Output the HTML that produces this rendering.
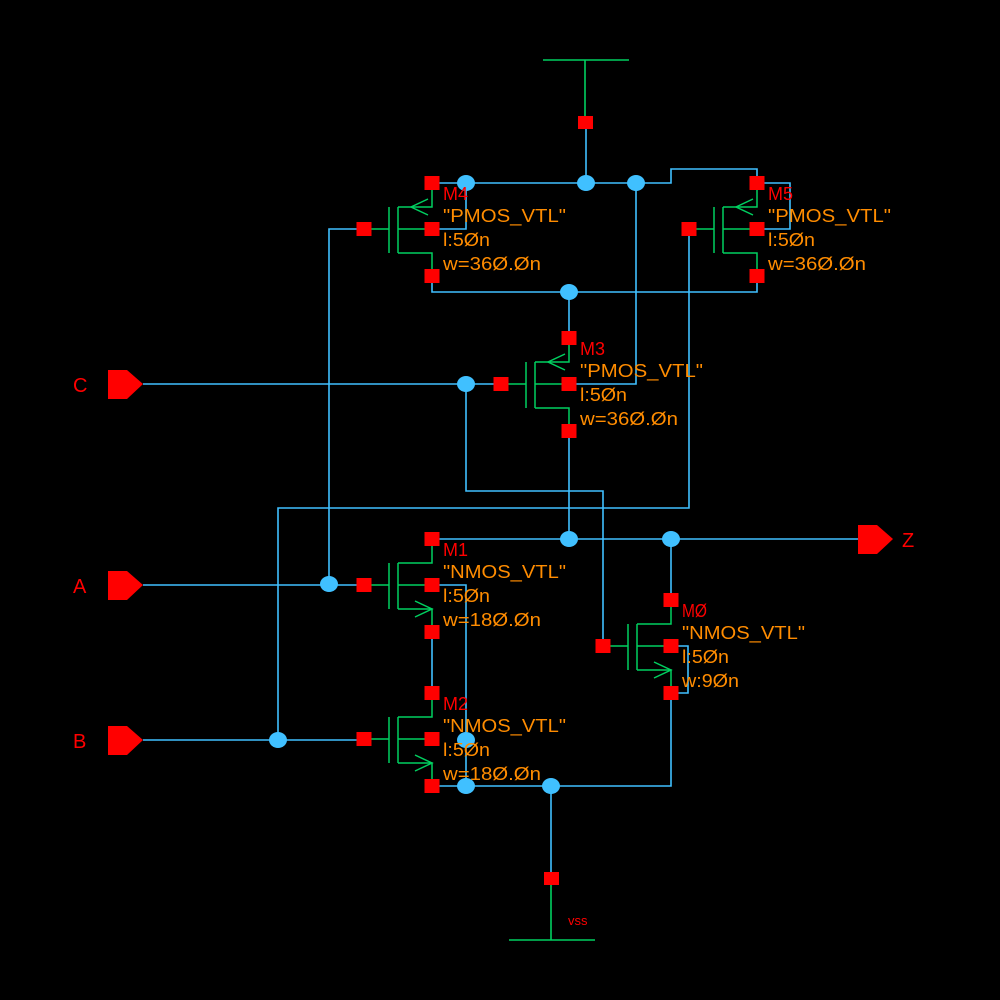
<!DOCTYPE html>
<html><head><meta charset="utf-8"><style>html,body{margin:0;padding:0;background:#000}svg{display:block}</style></head>
<body>
<svg width="1000" height="1000" viewBox="0 0 1000 1000" xmlns="http://www.w3.org/2000/svg">
<rect width="1000" height="1000" fill="#000"/>
<defs>
<g id="pm">
 <g stroke="#00d060" stroke-width="1.5" fill="none">
  <path d="M-61 46H-43M-43 24V70M-34 24V70M-34 24H0V0M-34 46H0M-34 70H0V93"/>
  <path d="M-4 16L-21 24L-4 32"/>
 </g>
 <rect x="-7.5" y="-7" width="15" height="14" fill="#f00"/>
 <rect x="-7.5" y="39" width="15" height="14" fill="#f00"/>
 <rect x="-7.5" y="86" width="15" height="14" fill="#f00"/>
 <rect x="-75.5" y="39" width="15" height="14" fill="#f00"/>
</g>
<g id="nm">
 <g stroke="#00d060" stroke-width="1.5" fill="none">
  <path d="M-61 46H-43M-43 24V70M-34 24V70M-34 24H0V0M-34 46H0M-34 70H0V93"/>
  <path d="M-17 62L0 70L-17 78"/>
 </g>
 <rect x="-7.5" y="-7" width="15" height="14" fill="#f00"/>
 <rect x="-7.5" y="39" width="15" height="14" fill="#f00"/>
 <rect x="-7.5" y="86" width="15" height="14" fill="#f00"/>
 <rect x="-75.5" y="39" width="15" height="14" fill="#f00"/>
</g>
</defs>

<g stroke="#40c0ff" stroke-width="1.6" fill="none">
 <path d="M586 129V183"/>
 <path d="M432 183H671V169H757V183"/>
 <path d="M757 183H790V229H757"/>
 <path d="M432 229H466V183"/>
 <path d="M364 229H329V584"/>
 <path d="M432 276V292H757V276"/>
 <path d="M569 292V338"/>
 <path d="M689 229V508H278V740"/>
 <path d="M636 183V384H569"/>
 <path d="M143 384H500"/>
 <path d="M466 384V491H603V646"/>
 <path d="M569 431V539"/>
 <path d="M432 539H858"/>
 <path d="M671 539V600"/>
 <path d="M143 585H364"/>
 <path d="M432 585H466V786"/>
 <path d="M432 631V693"/>
 <path d="M143 740H364"/>
 <path d="M432 786H671V693"/>
 <path d="M671 646H688V693H671"/>
 <path d="M551 786V872"/>
</g>
<g stroke="#00d060" stroke-width="1.6" fill="none">
 <path d="M543 60H629M585 60V116"/>
 <path d="M551 885V940M509 940H595"/>
</g>
<rect x="578" y="116" width="15" height="13" fill="#f00"/>
<rect x="544" y="872" width="15" height="13" fill="#f00"/>

<use href="#pm" x="432" y="183"/>
<use href="#pm" x="757" y="183"/>
<use href="#pm" x="569" y="338"/>
<use href="#nm" x="432" y="539"/>
<use href="#nm" x="432" y="693"/>
<use href="#nm" x="671" y="600"/>

<g fill="#40c0ff">
 <ellipse cx="466" cy="183" rx="9" ry="8"/>
 <ellipse cx="586" cy="183" rx="9" ry="8"/>
 <ellipse cx="636" cy="183" rx="9" ry="8"/>
 <ellipse cx="569" cy="292" rx="9" ry="8"/>
 <ellipse cx="466" cy="384" rx="9" ry="8"/>
 <ellipse cx="569" cy="539" rx="9" ry="8"/>
 <ellipse cx="671" cy="539" rx="9" ry="8"/>
 <ellipse cx="329" cy="584" rx="9" ry="8"/>
 <ellipse cx="278" cy="740" rx="9" ry="8"/>
 <ellipse cx="466" cy="740" rx="9" ry="8"/>
 <ellipse cx="466" cy="786" rx="9" ry="8"/>
 <ellipse cx="551" cy="786" rx="9" ry="8"/>
</g>

<g fill="#f00">
 <path d="M108 370H127L143 384L127 399H108Z"/>
 <path d="M108 571H127L143 585L127 600H108Z"/>
 <path d="M108 726H127L143 740L127 755H108Z"/>
 <path d="M858 525H877L893 539L877 554H858Z"/>
</g>
<g font-family="Liberation Sans, sans-serif" font-size="20" fill="#f00">
 <text x="73" y="392">C</text>
 <text x="73" y="593">A</text>
 <text x="73" y="748">B</text>
 <text x="902" y="547">Z</text>
</g>
<text x="568" y="925" font-family="Liberation Sans, sans-serif" font-size="13" fill="#f00">vss</text>

<g font-family="Liberation Sans, sans-serif" font-size="18" lengthAdjust="spacingAndGlyphs">
 <g fill="#f00">
  <text x="443" y="200" textLength="25" lengthAdjust="spacingAndGlyphs">M4</text>
  <text x="768" y="200" textLength="25" lengthAdjust="spacingAndGlyphs">M5</text>
  <text x="580" y="355" textLength="25" lengthAdjust="spacingAndGlyphs">M3</text>
  <text x="443" y="556" textLength="25" lengthAdjust="spacingAndGlyphs">M1</text>
  <text x="443" y="710" textLength="25" lengthAdjust="spacingAndGlyphs">M2</text>
  <text x="682" y="617" textLength="25" lengthAdjust="spacingAndGlyphs">MØ</text>
 </g>
 <g fill="#ff8c00">
  <text x="443" y="222" textLength="123" lengthAdjust="spacingAndGlyphs">"PMOS_VTL"</text>
  <text x="443" y="246" textLength="47" lengthAdjust="spacingAndGlyphs">l:5Øn</text>
  <text x="443" y="270" textLength="98" lengthAdjust="spacingAndGlyphs">w=36Ø.Øn</text>
  <text x="768" y="222" textLength="123" lengthAdjust="spacingAndGlyphs">"PMOS_VTL"</text>
  <text x="768" y="246" textLength="47" lengthAdjust="spacingAndGlyphs">l:5Øn</text>
  <text x="768" y="270" textLength="98" lengthAdjust="spacingAndGlyphs">w=36Ø.Øn</text>
  <text x="580" y="377" textLength="123" lengthAdjust="spacingAndGlyphs">"PMOS_VTL"</text>
  <text x="580" y="401" textLength="47" lengthAdjust="spacingAndGlyphs">l:5Øn</text>
  <text x="580" y="425" textLength="98" lengthAdjust="spacingAndGlyphs">w=36Ø.Øn</text>
  <text x="443" y="578" textLength="123" lengthAdjust="spacingAndGlyphs">"NMOS_VTL"</text>
  <text x="443" y="602" textLength="47" lengthAdjust="spacingAndGlyphs">l:5Øn</text>
  <text x="443" y="626" textLength="98" lengthAdjust="spacingAndGlyphs">w=18Ø.Øn</text>
  <text x="443" y="732" textLength="123" lengthAdjust="spacingAndGlyphs">"NMOS_VTL"</text>
  <text x="443" y="756" textLength="47" lengthAdjust="spacingAndGlyphs">l:5Øn</text>
  <text x="443" y="780" textLength="98" lengthAdjust="spacingAndGlyphs">w=18Ø.Øn</text>
  <text x="682" y="639" textLength="123" lengthAdjust="spacingAndGlyphs">"NMOS_VTL"</text>
  <text x="682" y="663" textLength="47" lengthAdjust="spacingAndGlyphs">l:5Øn</text>
  <text x="682" y="687" textLength="57" lengthAdjust="spacingAndGlyphs">w:9Øn</text>
 </g>
</g>
</svg>
</body></html>
